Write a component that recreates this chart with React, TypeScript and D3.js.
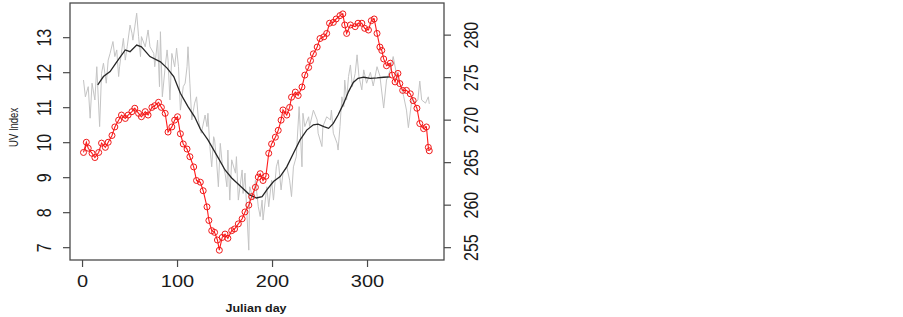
import React from "react";
import * as d3 from "d3";

// Grey: daily UV index (left axis)
const greyDays = [1,3,6,8,10,13,15,18,20,22,25,27,29,32,34,36,38,39,43,45,47,50,52,53,55,57,59,61,62,66,69,71,75,76,79,81,82,84,87,89,90,92,94,97,99,101,103,106,108,110,111,113,115,118,120,122,125,129,131,132,134,136,138,139,141,143,145,147,150,152,153,155,157,161,162,164,168,169,171,173,175,176,180,182,185,187,189,190,194,196,199,201,204,206,209,211,215,218,220,222,225,228,231,232,234,238,239,243,247,248,252,253,257,261,262,264,268,269,271,273,275,276,278,280,282,284,287,289,291,294,296,299,303,306,310,313,317,320,324,327,331,334,338,341,343,347,350,353,355,357,361,364,365];
const greyUV = [11.79,11.31,11.60,10.70,11.70,11.22,12.17,10.46,11.98,12.27,11.70,12.36,12.55,12.89,12.46,12.65,11.89,12.17,12.98,12.36,12.74,13.36,13.13,12.93,13.31,13.70,13.03,12.46,13.03,12.74,13.22,12.74,12.55,12.17,12.93,11.60,13.17,11.31,12.17,12.65,12.36,11.22,12.55,12.17,12.70,12.17,10.93,11.60,11.70,12.17,12.74,11.70,10.65,11.13,11.31,10.65,10.27,10.79,10.46,10.84,9.89,9.31,10.17,10.08,9.51,8.74,9.98,9.41,9.13,8.74,9.79,8.36,9.51,9.13,9.60,8.36,9.22,8.55,9.13,7.98,6.93,8.74,8.36,8.93,8.17,7.89,8.36,7.79,8.74,8.17,8.93,8.36,9.31,9.51,8.65,9.13,9.31,8.93,8.46,9.31,9.60,11.03,9.31,10.84,10.46,10.74,10.46,10.93,10.65,10.27,9.89,10.46,10.74,10.65,10.93,10.27,9.98,9.79,10.46,11.31,11.03,11.79,11.22,11.89,12.22,11.60,11.98,12.51,11.89,11.51,12.08,11.70,12.01,11.62,12.17,11.91,10.99,11.79,12.08,12.46,11.89,11.70,11.33,10.93,10.43,11.31,11.13,11.22,11.76,11.22,11.13,11.31,11.11];

// Black: smoothed UV index (left axis)
const smoothDays = [16,22,29,36,45,50,57,62,71,82,89,96,103,111,118,124,132,143,150,157,166,176,183,189,194,201,208,215,222,229,236,243,248,254,259,264,269,275,280,285,290,296,303,310,317,324];
const smoothUV = [11.65,11.89,12.03,12.31,12.65,12.60,12.79,12.74,12.46,12.31,12.13,11.89,11.41,11.03,10.74,10.39,10.08,9.56,9.22,8.99,8.76,8.51,8.42,8.46,8.65,8.89,9.03,9.31,9.70,10.08,10.36,10.51,10.53,10.46,10.41,10.55,10.79,11.13,11.46,11.72,11.84,11.87,11.84,11.85,11.87,11.88];

// Red: right-axis series
const redDays = [1,4,6,10,13,17,20,24,27,31,34,38,41,45,48,52,55,59,62,66,69,73,76,80,83,87,90,94,97,100,103,106,110,113,117,120,124,127,131,133,136,139,142,144,147,150,153,157,160,164,168,171,175,178,182,185,187,190,193,196,199,203,206,209,211,215,218,220,224,227,231,234,238,240,243,247,250,254,257,260,264,267,271,274,276,278,282,287,290,294,297,301,304,307,310,313,315,317,320,324,326,329,332,334,337,341,345,348,352,355,359,362,364,365];
const redVal = [266.2,267.4,266.7,266.1,265.6,266.2,267.3,266.8,267.4,268.2,269.2,270.0,270.6,270.2,270.6,271.0,271.4,270.8,270.4,271.0,270.6,271.5,271.7,272.1,271.5,270.8,268.6,269.2,270.0,270.4,268.4,267.2,266.6,265.7,264.5,262.9,262.7,261.7,259.8,258.2,257.0,256.8,255.9,254.7,256.2,256.6,256.1,257.0,257.2,257.8,258.4,259.2,260.0,261.0,262.1,263.3,263.7,262.9,263.4,266.1,267.2,268.0,268.8,270.0,271.2,270.6,271.5,272.7,273.3,272.9,273.9,275.3,276.2,277.0,277.8,278.6,279.6,279.8,280.2,281.4,281.5,281.9,282.3,282.5,281.2,280.2,281.2,281.0,281.4,281.4,280.8,280.6,281.7,281.9,280.2,278.6,278.2,277.2,276.4,276.7,275.3,274.5,275.5,274.3,273.5,273.5,273.1,272.3,271.4,269.6,269.0,269.2,266.8,266.4];

const xTicks = [0, 100, 200, 300];
const leftTicks = [7, 8, 9, 10, 11, 12, 13];
const rightTicks = [255, 260, 265, 270, 275, 280];
const xTitle = "Julian day";
const yTitle = "UV Index";

const W = 903, H = 317;
const L = 70, R = 444, T = 3, B = 260;
const FONT = "'Liberation Sans', Arial, Helvetica, sans-serif";
const SX = 1.25;

export default function App() {
  const x = d3.scaleLinear().domain([-13.2, 380.5]).range([L, R]);
  const yL = d3.scaleLinear().domain([6.648, 13.991]).range([B, T]);
  const yR = d3.scaleLinear().domain([253.55, 283.78]).range([B, T]);

  const greyLine = d3.line<number>().x((_, i) => x(greyDays[i])).y((v) => yL(v));
  const smoothLine = d3.line<number>().x((_, i) => x(smoothDays[i])).y((v) => yL(v));
  const redLine = d3.line<number>().x((_, i) => x(redDays[i])).y((v) => yR(v));

  const txt = "#1a1a1a";
  return (
    <svg width={W} height={H} style={{ position: "absolute", left: 0, top: 0, background: "#fff" }}>
      <rect x={0} y={0} width={W} height={H} fill="#fff" />
      <path d={greyLine(greyUV) || ""} fill="none" stroke="#c4c4c4" strokeWidth={1} />
      <path d={smoothLine(smoothUV) || ""} fill="none" stroke="#262626" strokeWidth={1.3} />
      <path d={redLine(redVal) || ""} fill="none" stroke="#ff1a1a" strokeWidth={1.1} />
      {redVal.map((v, i) => (
        <circle key={i} cx={x(redDays[i])} cy={yR(v)} r={3} fill="none" stroke="#f01818" strokeWidth={1} />
      ))}
      <rect x={L} y={T} width={R - L} height={B - T} fill="none" stroke="#4a4a4a" strokeWidth={1.3} />
      {xTicks.map((t) => (
        <g key={"x" + t}>
          <line x1={x(t)} x2={x(t)} y1={B} y2={B + 7} stroke="#4a4a4a" strokeWidth={1.2} />
          <text transform={`translate(${x(t)},287) scale(${SX},1)`} textAnchor="middle" fontSize={16} fontFamily={FONT} fill={txt}>{t}</text>
        </g>
      ))}
      {leftTicks.map((t) => (
        <g key={"l" + t}>
          <line x1={L - 7} x2={L} y1={yL(t)} y2={yL(t)} stroke="#4a4a4a" strokeWidth={1.2} />
          <text transform={`translate(51,${yL(t)}) scale(${SX},1) rotate(-90)`} textAnchor="middle" fontSize={16} fontFamily={FONT} fill={txt}>{t}</text>
        </g>
      ))}
      {rightTicks.map((t) => (
        <g key={"r" + t}>
          <line x1={R} x2={R + 7} y1={yR(t)} y2={yR(t)} stroke="#4a4a4a" strokeWidth={1.2} />
          <text transform={`translate(478,${yR(t)}) scale(${SX},1) rotate(-90)`} textAnchor="middle" fontSize={16} fontFamily={FONT} fill={txt}>{t}</text>
        </g>
      ))}
      <text transform={`translate(18.3,127.4) scale(${SX},1) rotate(-90)`} textAnchor="middle" fontSize={9.5} fontFamily={FONT} fill={txt}>{yTitle}</text>
      <text transform={`translate(256,311.5) scale(${SX},1)`} textAnchor="middle" fontSize={10} fontWeight="bold" fontFamily={FONT} fill={txt}>{xTitle}</text>
    </svg>
  );
}
